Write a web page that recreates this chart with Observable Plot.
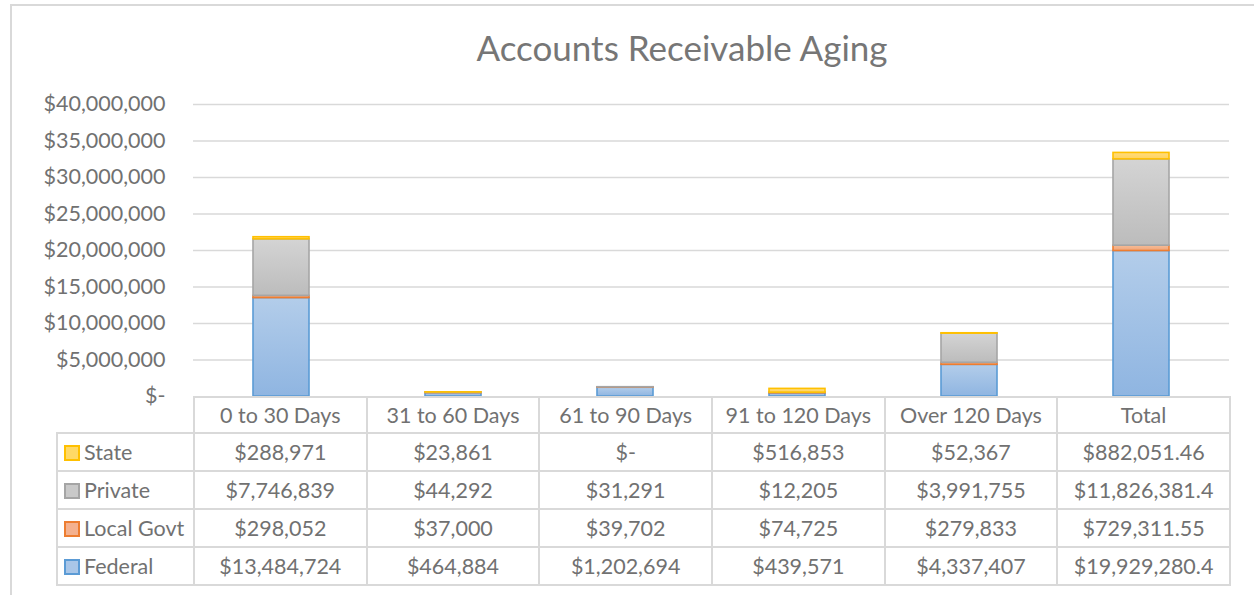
<!DOCTYPE html>
<html>
<head>
<meta charset="utf-8">
<script src="https://cdn.jsdelivr.net/npm/d3@7"></script>
<script src="https://cdn.jsdelivr.net/npm/@observablehq/plot@0.6"></script>
<style>
  html, body { margin: 0; padding: 0; background: #fff; overflow: hidden; }
  #wrap { position: relative; width: 1254px; height: 595px; overflow: hidden; font-family: Lato, "Open Sans", sans-serif; color: #717171; }
  #frame { position: absolute; left: 10px; top: 4px; width: 1300px; height: 700px; border: 2px solid #d9d9d9; box-sizing: border-box; }
  #title { position: absolute; left: 0; width: 1364px; top: 25px; text-align: center; font-size: 35px; line-height: 44px; color: #767676; }
  #chart { position: absolute; left: 0; top: 80px; }
  #tbl { position: absolute; left: 56px; top: 396px; border-collapse: collapse; table-layout: fixed; font-size: 21.5px; color: #717171; }
  #tbl td { border: 2px solid #d9d9d9; text-align: center; padding: 0; white-space: nowrap; overflow: hidden; }
  #tbl tr.head td { height: 34px; }
  #tbl tr.row td { height: 36px; }
  #tbl td.blank { border: none; }
  #tbl td.lab { text-align: left; padding-left: 6px; }
  .sw { display: inline-block; width: 12px; height: 12px; border: 2px solid; margin-right: 4px; vertical-align: -1px; }
</style>
</head>
<body>
<div id="wrap">
  <div id="frame"></div>
  <div id="title">Accounts Receivable Aging</div>
  <div id="chart"></div>
  <table id="tbl"></table>
</div>
<script>
// ---- data ----
const categories = ["0 to 30 Days", "31 to 60 Days", "61 to 90 Days", "91 to 120 Days", "Over 120 Days", "Total"];
const federal   = [13484724, 464884, 1202694, 439571, 4337407, 19929280.4];
const localGovt = [298052, 37000, 39702, 74725, 279833, 729311.55];
const privateV  = [7746839, 44292, 31291, 12205, 3991755, 11826381.4];
const stateV    = [288971, 23861, 0, 516853, 52367, 882051.46];
const seriesNames = ["Federal", "Local Govt", "Private", "State"]; // bottom to top
const yTicks = [0, 5000000, 10000000, 15000000, 20000000, 25000000, 30000000, 35000000, 40000000];

// ---- styles ----
const styles = {
  "Federal":    {stroke: "#5b9bd5", top: "#b3cdea", bottom: "#8fb5e1", sw: "#a9c6e8"},
  "Local Govt": {stroke: "#ed7d31", top: "#f6bd98", bottom: "#f1a478", sw: "#f4b18f"},
  "Private":    {stroke: "#a5a5a5", top: "#d4d4d4", bottom: "#bcbcbc", sw: "#c9c9c9"},
  "State":      {stroke: "#ffc000", top: "#ffdc80", bottom: "#ffd35c", sw: "#ffd966"}
};
const valuesBySeries = {"Federal": federal, "Local Govt": localGovt, "Private": privateV, "State": stateV};

// stacked rows
const rows = [];
categories.forEach((c, i) => {
  let acc = 0;
  for (const s of seriesNames) {
    const v = valuesBySeries[s][i];
    rows.push({category: c, series: s, value: v, y1: acc, y2: acc + v});
    acc += v;
  }
});

const fmt = v => v === 0 ? "$-" : d3.format("$,")(v);

const plot = Plot.plot({
  width: 1254,
  height: 330,
  marginLeft: 193,
  marginRight: 25,
  marginTop: 24,
  marginBottom: 14,
  style: {fontFamily: "Lato, 'Open Sans', sans-serif", fontSize: "21.5px", color: "#717171", background: "transparent", overflow: "visible"},
  x: {domain: categories, paddingInner: 0.676, paddingOuter: 0.338, axis: null},
  y: {domain: [0, 40000000], axis: null},
  marks: [
    Plot.ruleY(yTicks.filter(d => d > 0), {stroke: "#d9d9d9", strokeWidth: 1.6}),
    Plot.axisY({ticks: yTicks, tickSize: 0, tickPadding: 28, tickFormat: fmt, label: null, fill: "#717171"}),
    ...seriesNames.map((s, k) => Plot.barY(rows.filter(r => r.series === s && r.value > 0), {
      x: "category", y1: "y1", y2: "y2",
      fill: `url(#grad${k})`, stroke: styles[s].stroke, strokeWidth: 1.6
    }))
  ]
});

// gradients
const svg = d3.select(plot);
const defs = svg.insert("defs", ":first-child");
seriesNames.forEach((s, k) => {
  const g = defs.append("linearGradient").attr("id", `grad${k}`).attr("x1", 0).attr("y1", 0).attr("x2", 0).attr("y2", 1);
  g.append("stop").attr("offset", "0%").attr("stop-color", styles[s].top);
  g.append("stop").attr("offset", "100%").attr("stop-color", styles[s].bottom);
});
document.getElementById("chart").appendChild(plot);

// data table
const tbl = d3.select("#tbl");
const colg = tbl.append("colgroup");
colg.append("col").style("width", "137px");
categories.forEach(() => colg.append("col").style("width", "172.67px"));
const head = tbl.append("tr").attr("class", "head");
head.append("td").attr("class", "blank");
categories.forEach(c => head.append("td").text(c));
[...seriesNames].reverse().forEach(s => {
  const tr = tbl.append("tr").attr("class", "row");
  const lab = tr.append("td").attr("class", "lab");
  lab.append("span").attr("class", "sw").style("background", styles[s].sw).style("border-color", styles[s].stroke);
  lab.append("span").text(s);
  valuesBySeries[s].forEach(v => tr.append("td").text(fmt(v)));
});
</script>
</body>
</html>
